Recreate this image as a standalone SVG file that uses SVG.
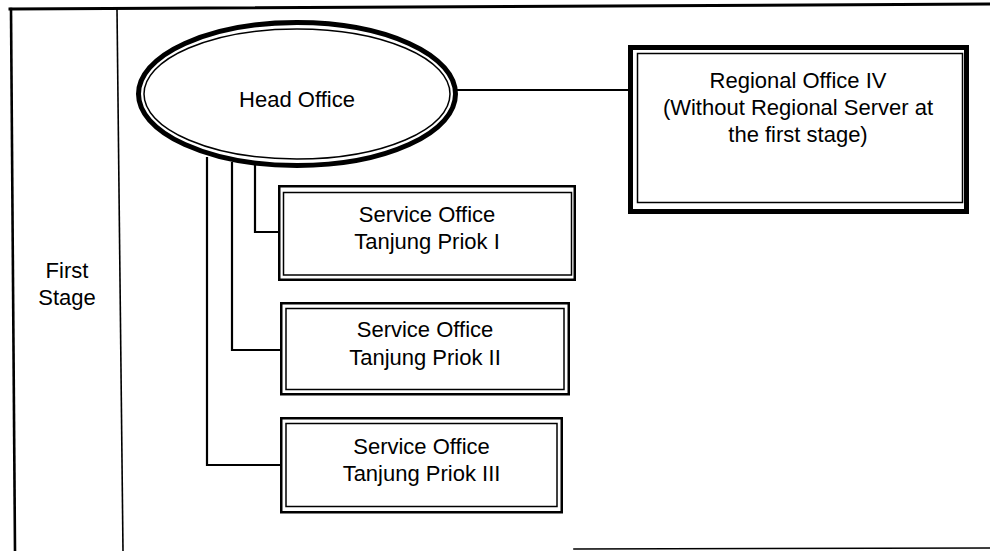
<svg xmlns="http://www.w3.org/2000/svg" width="990" height="551" viewBox="0 0 990 551">
  <style>
    .frame { fill: none; stroke: #000; stroke-linecap: square; }
    .thick { fill: none; stroke: #000; stroke-width: 5; }
    .mid { fill: none; stroke: #000; stroke-width: 2.5; }
    .thin { fill: none; stroke: #000; stroke-width: 1.5; }
    .bg { fill: #fff; }
    .wire { fill: none; stroke: #000; stroke-width: 2.2; stroke-linejoin: miter; }
    text { font-family: "Liberation Sans", Arial, sans-serif; font-size: 22px; fill: #000; text-anchor: middle; }
  </style>

  <rect width="990" height="551" fill="#fff"/>

  <!-- page frame and stage column -->
  <g id="frame">
    <line class="frame" x1="10" y1="9" x2="990" y2="4" stroke-width="3"/>
    <line class="frame" x1="11" y1="9" x2="15" y2="551" stroke-width="2.6"/>
    <line class="frame" x1="117" y1="9" x2="123" y2="551" stroke-width="1.6"/>
    <line class="frame" x1="574" y1="549" x2="990" y2="548" stroke-width="1.6"/>
  </g>

  <g id="stage-label">
    <text x="67" y="278">First</text>
    <text x="67" y="305">Stage</text>
  </g>

  <!-- links -->
  <g id="connectors">
    <polyline class="wire" points="207,157 207,465 280,465"/>
    <polyline class="wire" points="232,162 232,350 280,350"/>
    <polyline class="wire" points="255,165 255,232 278,232"/>
    <line class="wire" x1="457" y1="90" x2="628" y2="90"/>
  </g>

  <g id="head-office">
    <ellipse class="thick bg" cx="297" cy="94" rx="158.5" ry="71.5"/>
    <ellipse class="thin" cx="297" cy="94" rx="153" ry="65"/>
    <text x="297" y="107">Head Office</text>
  </g>

  <g id="regional-office-iv">
    <rect class="thick bg" x="630.5" y="47.5" width="336" height="164"/>
    <rect class="thin" x="637.5" y="53.5" width="325" height="149"/>
    <text x="798" y="88">Regional Office IV</text>
    <text x="798" y="115">(Without Regional Server at</text>
    <text x="798" y="142">the first stage)</text>
  </g>

  <g id="service-office-1">
    <rect class="mid bg" x="279.25" y="186.25" width="295.5" height="93.5"/>
    <rect class="thin" x="283.5" y="192.5" width="288" height="82.5"/>
    <text x="427" y="222">Service Office</text>
    <text x="427" y="249">Tanjung Priok I</text>
  </g>

  <g id="service-office-2">
    <rect class="mid bg" x="281.25" y="303.25" width="287.5" height="91"/>
    <rect class="thin" x="286" y="308.5" width="278" height="81"/>
    <text x="425" y="337">Service Office</text>
    <text x="425" y="365">Tanjung Priok II</text>
  </g>

  <g id="service-office-3">
    <rect class="mid bg" x="281.25" y="418.25" width="280.5" height="94"/>
    <rect class="thin" x="286" y="423.5" width="271" height="83"/>
    <text x="421.5" y="454">Service Office</text>
    <text x="421.5" y="481">Tanjung Priok III</text>
  </g>
</svg>
